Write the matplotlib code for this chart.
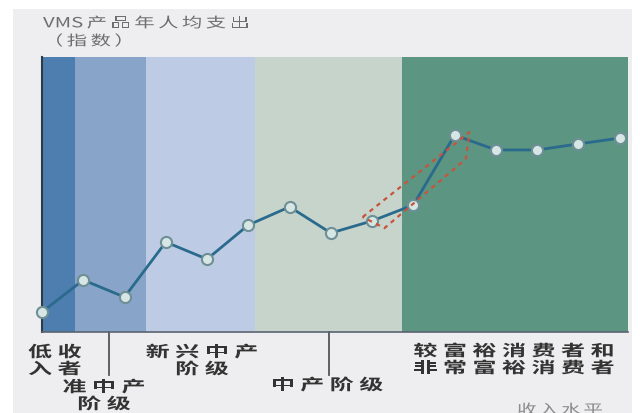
import numpy as np
import matplotlib.pyplot as plt
from matplotlib.patches import Rectangle, Polygon, PathPatch
from matplotlib.textpath import TextPath, text_to_path
from matplotlib.font_manager import FontProperties
from matplotlib.transforms import Affine2D

plt.rcParams['font.family'] = ['Noto Sans CJK SC', 'DejaVu Sans']

W, H = 640, 414

# income groups along the x axis
idx = np.arange(15)
spend = [7.3, 18.9, 12.7, 32.7, 26.5, 38.9, 45.5, 36.0, 40.4, 46.2, 71.6, 66.2, 66.2, 68.4, 70.5]

band_edges = [0, 0.8, 2.52, 5.16, 8.72, 14.2]
band_colors = ['#4e7eb0', '#89a4c9', '#bdcce4', '#c6d4cc', '#5c9581']
group_ticks = [1.62, 6.95]
group_names = ['低收\n入者', '准中产\n阶级', '新兴中产\n阶级', '中产阶级', '较富裕消费者和\n非常富裕消费者']
title = 'VMS产品年人均支出\n（指数）'
xname = '收入水平'


def wide_text(fig, s, x, cy, em, sx=1.55, track=5.5, ha='center', color='#333333',
              weight='bold', rowgap=17):
    # horizontally stretched, letter-spaced text; x, cy in pixels from top-left
    fp = FontProperties(family='Noto Sans CJK SC', weight=weight, size=em)
    for r, line in enumerate(s.split('\n')):
        adv = [text_to_path.get_text_width_height_descent(ch, fp, ismath=False)[0] * sx
               for ch in line]
        # no extra spacing between latin letters
        gaps = [0 if (a.isascii() and b.isascii()) else track for a, b in zip(line, line[1:])] + [0]
        total = sum(adv) + sum(gaps)
        x0 = x - total / 2 if ha == 'center' else x
        base = H - (cy + r * rowgap) - 0.38 * em
        for ch, a, g in zip(line, adv, gaps):
            tp = TextPath((0, 0), ch, prop=fp, size=em)
            tr = Affine2D().scale(sx, 1).translate(x0, base)
            fig.add_artist(PathPatch(tp, transform=tr, fc=color, ec='none', lw=0))
            x0 += a + g


fig = plt.figure(figsize=(W / 100, H / 100), dpi=100, facecolor='white')
fig.patches.append(Rectangle((13 / W, 0), 619 / W, 404 / H, transform=fig.transFigure,
                             facecolor='#eeeef0', edgecolor='none', zorder=-10))
ax = fig.add_axes([42 / W, 1 - 333 / H, 586 / W, 275 / H])
ax.set_xlim(0, 14.2)
ax.set_ylim(0, 100)

for i in range(len(band_colors)):
    ax.axvspan(band_edges[i], band_edges[i + 1], color=band_colors[i], lw=0, zorder=0)

ax.plot(idx, spend, color='#2a6a8c', lw=2, zorder=3, clip_on=False,
        marker='o', ms=8, mfc='#d6e6e4', mec='#6f8f96', mew=1.5)

# dotted outline around the jump into the affluent group
hl = Polygon([(7.77, 41.8), (10.36, 72.7), (10.27, 62.9), (8.30, 37.8)], closed=True,
             fill=False, ec='#c8543c', lw=1.6, ls=(0, (2, 2)), zorder=4)
ax.add_patch(hl)

for s in ['top', 'right']:
    ax.spines[s].set_visible(False)
ax.spines['left'].set_color('#2d3a48')
ax.spines['left'].set_linewidth(1.5)
ax.spines['bottom'].set_color('#5a6470')
ax.spines['bottom'].set_linewidth(1.2)
ax.set_xticks([])
ax.set_yticks([])

for x in group_ticks:
    ax.plot([x, x], [0, -15.5], color='#555555', lw=1.3, clip_on=False)

wide_text(fig, group_names[0], 28, 352, 15.5, ha='left')
wide_text(fig, group_names[1], 104, 387, 15.5)
wide_text(fig, group_names[2], 202, 352, 15.5)
wide_text(fig, group_names[3], 327, 385, 15.5)
wide_text(fig, group_names[4], 514, 351, 15.5)
wide_text(fig, xname, 560, 410, 14, sx=1.4, track=2.5, color='#8a8a8a', weight='normal')
wide_text(fig, title, 43, 23, 14, sx=1.45, track=3.5, ha='left', color='#6e6e6e',
          weight='normal', rowgap=18)

fig.savefig('out.png', dpi=100, facecolor=fig.get_facecolor())
